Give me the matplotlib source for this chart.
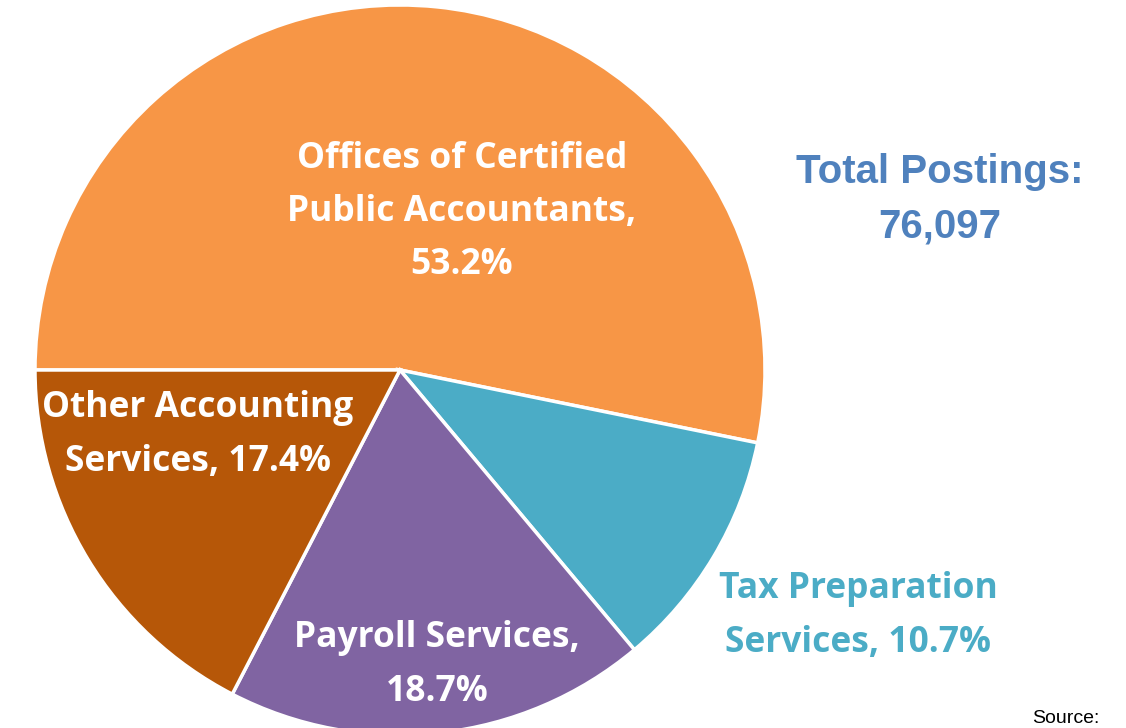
import matplotlib.pyplot as plt
from matplotlib import font_manager

categories = ['Offices of Certified\nPublic Accountants,\n53.2%',
              'Tax Preparation\nServices, 10.7%',
              'Payroll Services,\n18.7%',
              'Other Accounting\nServices, 17.4%']
shares = [53.2, 10.7, 18.7, 17.4]
colors = ['#F79646', '#4BACC6', '#8064A2', '#B65708']
total_label = 'Total Postings:\n76,097'

W, H = 1126, 728
fig = plt.figure(figsize=(W / 100, H / 100), dpi=100)

# pie centre at (400, 370) px, radius 365 px
cx, cy, r = 400, 370, 365
ax = fig.add_axes([(cx - r) / W, (H - cy - r) / H, 2 * r / W, 2 * r / H])
ax.pie(shares, colors=colors, startangle=180, counterclock=False,
       radius=1, wedgeprops=dict(edgecolor='white', linewidth=2.5))
ax.set_xlim(-1, 1)
ax.set_ylim(-1, 1)
ax.set_aspect('equal')
ax.axis('off')

names = [f.name for f in font_manager.fontManager.ttflist]
narrow = 'Liberation Sans Narrow' if 'Liberation Sans Narrow' in names else 'Liberation Sans'
lab_font = ['Open Sans', 'DejaVu Sans']


def px(x, y):
    return x / W, 1 - y / H


# label positions (pixels)
spots = [(462, 212), (858, 616), (437, 665), (198, 435)]
for i, (lab, (x, y)) in enumerate(zip(categories, spots)):
    col = colors[1] if i == 1 else 'white'
    fig.text(*px(x, y), lab, ha='center', va='center', color=col,
             fontsize=25.5, fontweight='bold', family=lab_font, linespacing=1.63)

fig.text(*px(940, 199), total_label, ha='center', va='center', color='#4F81BD',
         fontsize=29, fontweight='bold', family=[narrow, 'DejaVu Sans'],
         linespacing=1.55)
fig.text(*px(1032, 727), 'Source:', ha='left', va='bottom', color='black',
         fontsize=14, family=['Liberation Sans', 'DejaVu Sans'])

fig.savefig('out.png', dpi=100)
